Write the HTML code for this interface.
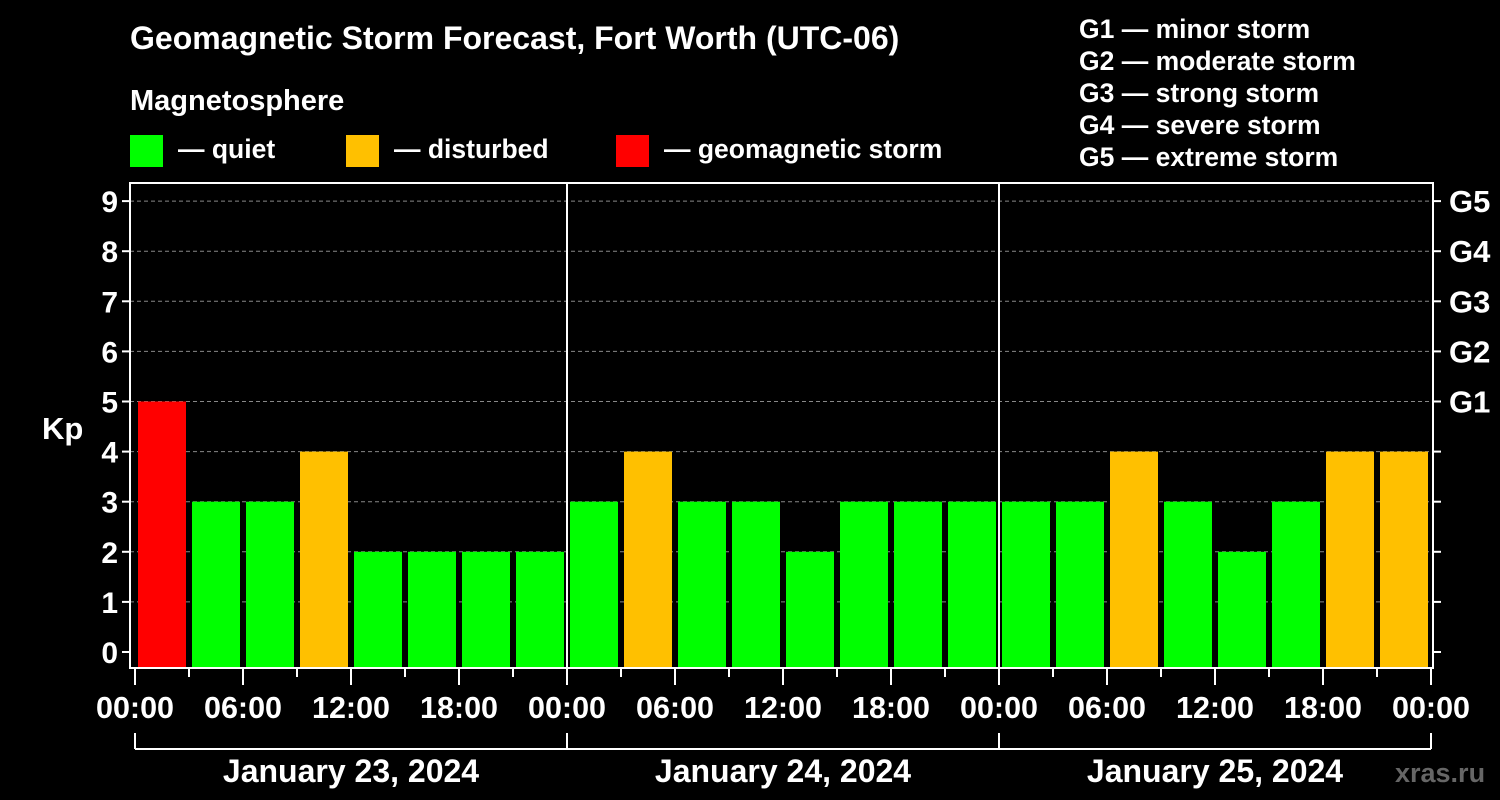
<!DOCTYPE html>
<html><head><meta charset="utf-8"><style>
body{margin:0;background:#000;}
svg{display:block;font-family:"Liberation Sans",sans-serif;font-weight:bold;}
</style></head><body>
<svg id="c" width="1500" height="800" viewBox="0 0 1500 800">
<rect width="1500" height="800" fill="#000"/>
<text x="130" y="49" fill="#fff" font-size="32">Geomagnetic Storm Forecast, Fort Worth (UTC-06)</text>
<text x="130" y="110" fill="#fff" font-size="29">Magnetosphere</text>
<g><rect x="130" y="135" width="33" height="32" fill="#00ff00"/><text x="178" y="158" fill="#fff" font-size="26.5">— quiet</text></g>
<g><rect x="346" y="135" width="33" height="32" fill="#ffc000"/><text x="394" y="158" fill="#fff" font-size="26.5">— disturbed</text></g>
<g><rect x="616" y="135" width="33" height="32" fill="#ff0000"/><text x="664" y="158" fill="#fff" font-size="26.5">— geomagnetic storm</text></g>
<g fill="#fff" font-size="26.5">
<text x="1079" y="38">G1 — minor storm</text><text x="1079" y="70">G2 — moderate storm</text><text x="1079" y="102">G3 — strong storm</text><text x="1079" y="134">G4 — severe storm</text><text x="1079" y="166">G5 — extreme storm</text></g>
<text x="42" y="439" fill="#fff" font-size="31">Kp</text>
<text x="1395" y="782" fill="#666" font-size="27">xras.ru</text>
<g id="plot"></g>
</svg>
<script>
const kpValues = [5,3,3,4,2,2,2,2, 3,4,3,3,2,3,3,3, 3,3,4,3,2,3,4,4];
const yTicks = [0,1,2,3,4,5,6,7,8,9];
const gLabels = ["G1","G2","G3","G4","G5"];
const gLevels = [5,6,7,8,9];
const xTickLabels = ["00:00","06:00","12:00","18:00","00:00","06:00","12:00","18:00","00:00","06:00","12:00","18:00","00:00"];
const dayLabels = ["January 23, 2024","January 24, 2024","January 25, 2024"];

const NS="http://www.w3.org/2000/svg";
const g=document.getElementById('plot');
const X0=135, SLOT=54, L=130, R=1433, T=183, B=668;
const y=v=>652-50.1*v;
const x=i=>X0+SLOT*i;
function mk(tag,a){const e=document.createElementNS(NS,tag);for(const k in a)e.setAttribute(k,a[k]);g.appendChild(e);return e;}
function col(v){return v>=5?"#ff0000":v>=4?"#ffc000":"#00ff00";}

yTicks.forEach(v=>{
  if(v>0){const l=mk('line',{x1:L,x2:R,y1:y(v),y2:y(v),stroke:'#888','stroke-dasharray':'4,3','stroke-width':1});
  
  }
  mk('line',{x1:L-8,x2:L,y1:y(v),y2:y(v),stroke:'#fff','stroke-width':2});
  mk('line',{x1:R,x2:R+8,y1:y(v),y2:y(v),stroke:'#fff','stroke-width':2});
  const t=mk('text',{x:L-12,y:y(v)+11,fill:'#fff','font-size':30,'text-anchor':'end'});t.textContent=v;
  
  
});
gLabels.forEach((s,i)=>{
  const t=mk('text',{x:R+16,y:y(gLevels[i])+11,fill:'#fff','font-size':31});t.textContent=s;
  
  
});
kpValues.forEach((v,i)=>{
  const r=mk('rect',{x:x(i)+3,y:y(v),width:48,height:B-1-y(v),fill:col(v)});
  
  
});
mk('rect',{x:L,y:T,width:R-L,height:B-T,fill:'none',stroke:'#fff','stroke-width':2});
for(let d=1;d<dayLabels.length;d++){mk('line',{x1:x(d*8),x2:x(d*8),y1:T,y2:B,stroke:'#fff','stroke-width':2});}
for(let i=0;i<=kpValues.length;i++){
  mk('line',{x1:x(i),x2:x(i),y1:B,y2:i%2==0?B+17:B+9,stroke:'#fff','stroke-width':2});
}
xTickLabels.forEach((s,i)=>{
  const t=mk('text',{x:x(i*2),y:718,fill:'#fff','font-size':30.5,'text-anchor':'middle'});t.textContent=s;
  
  
});
mk('line',{x1:x(0),x2:x(kpValues.length),y1:749,y2:749,stroke:'#fff','stroke-width':2});
for(let d=0;d<=dayLabels.length;d++){mk('line',{x1:x(d*8),x2:x(d*8),y1:733,y2:749,stroke:'#fff','stroke-width':2});}
dayLabels.forEach((s,d)=>{
  const t=mk('text',{x:x(d*8+4),y:782,fill:'#fff','font-size':32,'text-anchor':'middle'});t.textContent=s;
  
  
});
</script>
</body></html>
